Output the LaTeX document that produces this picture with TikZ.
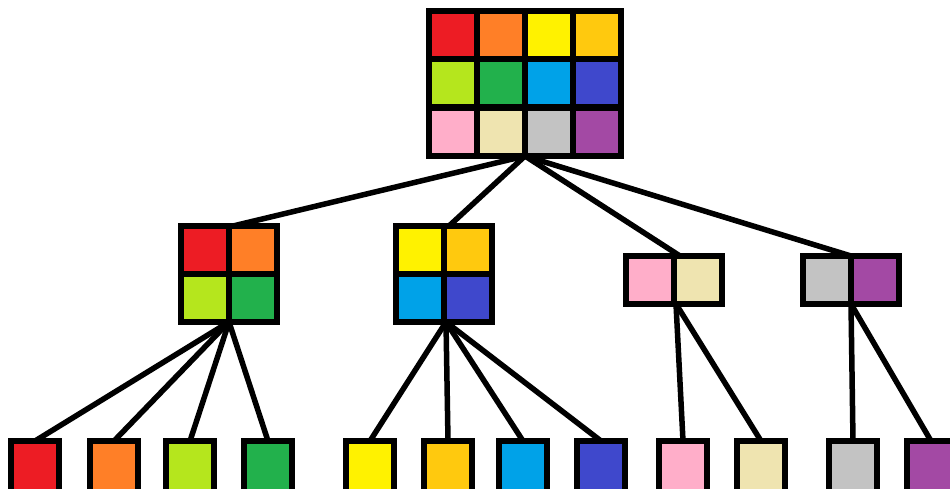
\documentclass[tikz,border=0pt]{standalone}
\begin{document}
\begin{tikzpicture}[x=1pt,y=-1pt,
  group/.style={draw=black,line width=6pt,inner sep=0pt,outer sep=0pt,minimum width=#1},
  cell/.style={draw=black,line width=6pt,fill=#1,inner sep=0pt,outer sep=0pt,minimum size=48pt},
  leaf/.style={cell=#1,minimum height=54pt},
  link/.style={draw=black,line width=5.5pt}]
\definecolor{cRed}{HTML}{ED1C24}
\definecolor{cOrange}{HTML}{FF7F27}
\definecolor{cYellow}{HTML}{FFF200}
\definecolor{cGold}{HTML}{FFC90E}
\definecolor{cLime}{HTML}{B5E61D}
\definecolor{cGreen}{HTML}{22B14C}
\definecolor{cCyan}{HTML}{00A2E8}
\definecolor{cBlue}{HTML}{3F48CC}
\definecolor{cPink}{HTML}{FFAEC9}
\definecolor{cBeige}{HTML}{EFE4B0}
\definecolor{cGray}{HTML}{C3C3C3}
\definecolor{cPurple}{HTML}{A349A4}
\useasboundingbox (0,0) rectangle (950,489);
% group nodes
\node[group=192pt,minimum height=145pt] (T) at (525,83.5) {};
\node[group=96pt,minimum height=96pt] (M1) at (229,274) {};
\node[group=96pt,minimum height=96pt] (M2) at (444,274) {};
\node[group=96pt,minimum height=48pt] (M3) at (674,280) {};
\node[group=96pt,minimum height=48pt] (M4) at (851,280) {};
% leaves
\node[leaf=cRed] (L1) at (35,468) {};
\node[leaf=cOrange] (L2) at (114,468) {};
\node[leaf=cLime] (L3) at (190,468) {};
\node[leaf=cGreen] (L4) at (268,468) {};
\node[leaf=cYellow] (L5) at (370,468) {};
\node[leaf=cGold] (L6) at (448,468) {};
\node[leaf=cCyan] (L7) at (523,468) {};
\node[leaf=cBlue] (L8) at (601,468) {};
\node[leaf=cPink] (L9) at (683,468) {};
\node[leaf=cBeige] (L10) at (761,468) {};
\node[leaf=cGray] (L11) at (853,468) {};
\node[leaf=cPurple] (L12) at (931,468) {};
% connectors
\draw[link] (T.south) -- ([xshift=4pt]M1.north);
\draw[link] (T.south) -- ([xshift=5pt]M2.north);
\draw[link] (T.south) -- ([xshift=6pt]M3.north);
\draw[link] (T.south) -- (M4.north);
\foreach \l in {L1,L2,L3,L4} \draw[link] (M1.south) -- (\l.north);
\foreach \l in {L5,L6,L7,L8} \draw[link] ([xshift=2pt]M2.south) -- (\l.north);
\foreach \l in {L9,L10} \draw[link] ([xshift=2pt]M3.south) -- (\l.north);
\foreach \l in {L11,L12} \draw[link] (M4.south) -- (\l.north);
% top cells
\node[cell=cRed] (t11) at (453,35) {};
\node[cell=cOrange] (t12) at (501,35) {};
\node[cell=cYellow] (t13) at (549,35) {};
\node[cell=cGold] (t14) at (597,35) {};
\node[cell=cLime] (t21) at (453,83.5) {};
\node[cell=cGreen] (t22) at (501,83.5) {};
\node[cell=cCyan] (t23) at (549,83.5) {};
\node[cell=cBlue] (t24) at (597,83.5) {};
\node[cell=cPink] (t31) at (453,132) {};
\node[cell=cBeige] (t32) at (501,132) {};
\node[cell=cGray] (t33) at (549,132) {};
\node[cell=cPurple] (t34) at (597,132) {};
% middle cells
\node[cell=cRed] (a11) at (205,250) {};
\node[cell=cOrange] (a12) at (253,250) {};
\node[cell=cLime] (a21) at (205,298) {};
\node[cell=cGreen] (a22) at (253,298) {};
\node[cell=cYellow] (b11) at (420,250) {};
\node[cell=cGold] (b12) at (468,250) {};
\node[cell=cCyan] (b21) at (420,298) {};
\node[cell=cBlue] (b22) at (468,298) {};
\node[cell=cPink] (c1) at (650,280) {};
\node[cell=cBeige] (c2) at (698,280) {};
\node[cell=cGray] (d1) at (827,280) {};
\node[cell=cPurple] (d2) at (875,280) {};
\end{tikzpicture}
\end{document}
